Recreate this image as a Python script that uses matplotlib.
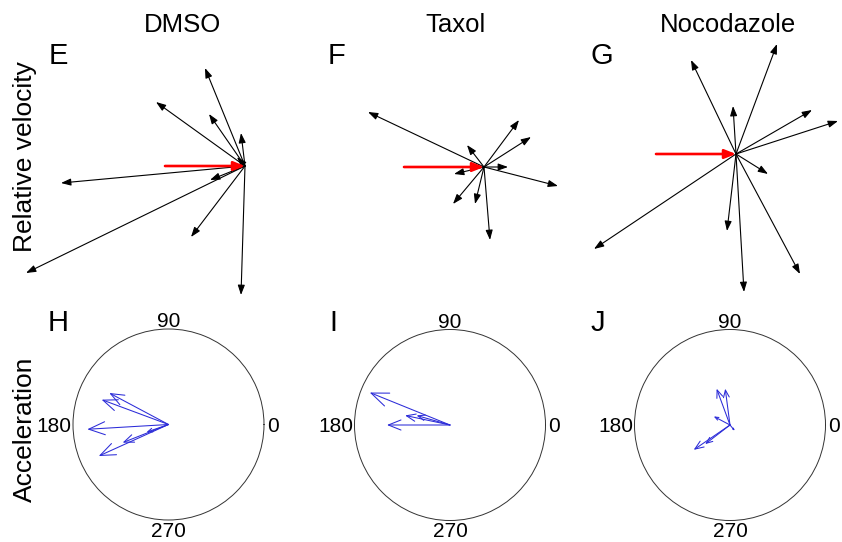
import numpy as np
import matplotlib
matplotlib.use('Agg')
import matplotlib.pyplot as plt
from matplotlib.patches import ArrowStyle

plt.rcParams['font.family'] = ['Liberation Sans', 'DejaVu Sans']

# treatments
conditions = ['DMSO', 'Taxol', 'Nocodazole']
top_letters = ['E', 'F', 'G']
bottom_letters = ['H', 'I', 'J']

# relative velocity vectors (x, y), red reference vector has length 80
ref_len = 80
vel_dx = [
    [-40, -89, -36, -4, -8, -184, -35, -219, -54, -4],
    [-116, 35, 47, -17, 24, 74, -30, -31, -9, 6],
    [-45, 41, -3, 76, 102, 32, -142, -9, 8, 64],
]
vel_dy = [
    [98, 64, 52, 33, 9, -17, -14, -107, -71, -129],
    [55, 47, 30, 22, 0, -19, -7, -37, -37, -73],
    [94, 110, 48, 44, 33, -20, -95, -77, -138, -120],
]

# acceleration vectors (x, y), circle radius = 1
acc_x = [
    [-0.62, -0.70, -0.85, -0.48, -0.73, -0.23],
    [-0.84, -0.47, -0.66, -0.35],
    [-0.14, -0.05, -0.17, -0.38, -0.26, 0.05],
]
acc_y = [
    [0.33, 0.26, -0.05, -0.19, -0.33, -0.08],
    [0.34, 0.10, 0.0, 0.10],
    [0.38, 0.38, 0.09, -0.26, -0.20, -0.06],
]

W, H = 842, 542
fig = plt.figure(figsize=(W / 100, H / 100), dpi=100)


def px_axes(x0, y0, w, h, **kw):
    return fig.add_axes([x0 / W, 1 - (y0 + h) / H, w / W, h / H], **kw)


# top row: velocity vectors
origins = [(245, 166), (484, 167), (736, 154)]
for i in range(3):
    ox, oy = origins[i]
    ax = px_axes(ox - 235, oy - 150, 340, 300)
    ax.set_xlim(-235, 105)
    ax.set_ylim(-150, 150)
    ax.axis('off')
    for dx, dy in zip(vel_dx[i], vel_dy[i]):
        ax.annotate('', xy=(dx, dy), xytext=(0, 0),
                    arrowprops=dict(arrowstyle=ArrowStyle('-|>', head_length=0.42, head_width=0.15),
                                    color='black', lw=0.8,
                                    mutation_scale=14, shrinkA=0, shrinkB=0))
    ax.annotate('', xy=(0, 0), xytext=(-ref_len, 0),
                arrowprops=dict(arrowstyle=ArrowStyle('-|>', head_length=0.45, head_width=0.18),
                                color='red', lw=1.9,
                                mutation_scale=15, shrinkA=0, shrinkB=0))

# bottom row: compass plots
centers = [(168.5, 424.5), (450, 425), (730, 425)]
R = 95.5
for i in range(3):
    cx, cy = centers[i]
    ax = px_axes(cx - R, cy - R, 2 * R, 2 * R, projection='polar')
    ax.set_ylim(0, 1)
    ax.set_xticks([])
    ax.set_yticks([])
    ax.grid(False)
    ax.spines['polar'].set_linewidth(0.7)
    ax.spines['polar'].set_color('#333333')
    ax.set_facecolor('white')
    x = np.array(acc_x[i])
    y = np.array(acc_y[i])
    th = np.arctan2(y, x)
    r = np.hypot(x, y)
    for t, rr in zip(th, r):
        L = rr * R
        ms = 0.2 * L / 1.389
        ax.annotate('', xy=(t, rr), xytext=(0, 0),
                    arrowprops=dict(arrowstyle=ArrowStyle('->', head_length=1.0, head_width=0.4),
                                    color='#2b2bd8', lw=0.75, mutation_scale=ms,
                                    shrinkA=0, shrinkB=0))
    ax.text(0.5, 1.008, '90', transform=ax.transAxes, ha='center', va='baseline', fontsize=15)
    ax.text(0.5, -0.01, '270', transform=ax.transAxes, ha='center', va='top', fontsize=15)
    ax.text(-0.008, 0.49, '180', transform=ax.transAxes, ha='right', va='center', fontsize=15)
    ax.text(1.015, 0.49, '0', transform=ax.transAxes, ha='left', va='center', fontsize=15)

# titles, panel letters, row labels
title_x = [183, 455, 728]
for i in range(3):
    fig.text(title_x[i] / W, 1 - 25 / H, conditions[i], ha='center', va='center', fontsize=18.5)

top_letter_x = [58, 337, 602]
bottom_letter_x = [58, 333, 598]
for i in range(3):
    fig.text(top_letter_x[i] / W, 1 - 56 / H, top_letters[i], ha='center', va='center', fontsize=21)
    fig.text(bottom_letter_x[i] / W, 1 - 323 / H, bottom_letters[i], ha='center', va='center', fontsize=21)

fig.text(25 / W, 1 - 157 / H, 'Relative velocity', rotation=90, ha='center', va='center', fontsize=19)
fig.text(25 / W, 1 - 429 / H, 'Acceleration', rotation=90, ha='center', va='center', fontsize=19)

fig.savefig('out.png', dpi=100)
